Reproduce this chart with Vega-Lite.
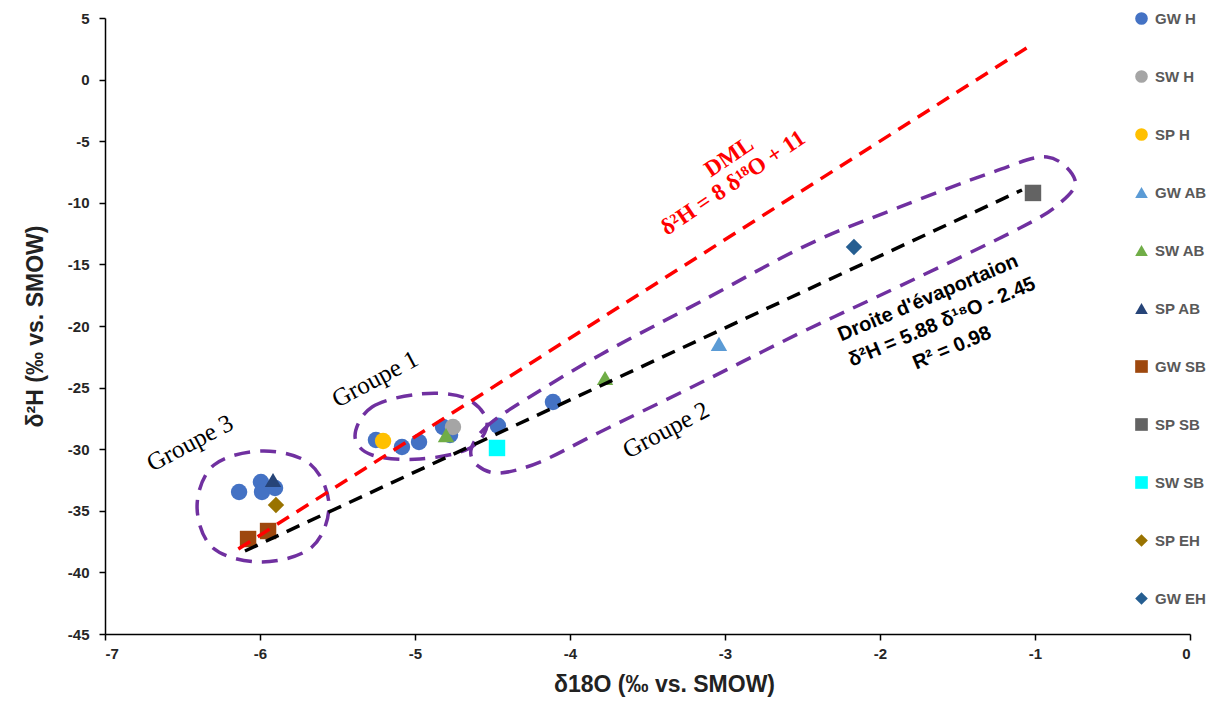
{
  "$schema": "https://vega.github.io/schema/vega-lite/v6.json",
  "autosize": {"type": "none"},
  "width": 1085,
  "height": 616,
  "padding": {"left": 105, "top": 18, "right": 25, "bottom": 74},
  "background": "white",
  "config": {
    "view": {"stroke": null},
    "axis": {
      "grid": false,
      "domainColor": "#000000",
      "domainWidth": 1.5,
      "tickColor": "#000000",
      "tickWidth": 1.5,
      "tickSize": 6,
      "labelFont": "Liberation Sans",
      "labelFontWeight": "bold",
      "labelFontSize": 15,
      "labelColor": "#262626",
      "titleFont": "Liberation Sans",
      "titleFontWeight": "bold",
      "titleFontSize": 23,
      "titleColor": "#222222"
    },
    "legend": {
      "labelFont": "Liberation Sans",
      "labelFontWeight": "bold",
      "labelFontSize": 15,
      "labelColor": "#595959"
    }
  },
  "datasets": {
    "samples": [
      {"serie": "GW H", "d18O": -6.135, "d2H": -33.47},
      {"serie": "GW H", "d18O": -5.994, "d2H": -32.66},
      {"serie": "GW H", "d18O": -5.987, "d2H": -33.47},
      {"serie": "GW H", "d18O": -5.903, "d2H": -33.15},
      {"serie": "GW H", "d18O": -5.252, "d2H": -29.25},
      {"serie": "GW H", "d18O": -5.084, "d2H": -29.82},
      {"serie": "GW H", "d18O": -4.974, "d2H": -29.42},
      {"serie": "GW H", "d18O": -4.819, "d2H": -28.2},
      {"serie": "GW H", "d18O": -4.774, "d2H": -28.85},
      {"serie": "GW H", "d18O": -4.465, "d2H": -28.1},
      {"serie": "GW H", "d18O": -4.11, "d2H": -26.17},
      {"serie": "SW H", "d18O": -4.755, "d2H": -28.2},
      {"serie": "SP H", "d18O": -5.206, "d2H": -29.33},
      {"serie": "GW AB", "d18O": -3.039, "d2H": -21.46},
      {"serie": "SW AB", "d18O": -3.774, "d2H": -24.22},
      {"serie": "SW AB", "d18O": -4.8, "d2H": -28.85},
      {"serie": "SP AB", "d18O": -5.916, "d2H": -32.5},
      {"serie": "GW SB", "d18O": -6.077, "d2H": -37.29},
      {"serie": "GW SB", "d18O": -5.948, "d2H": -36.64},
      {"serie": "SP SB", "d18O": -1.013, "d2H": -9.2},
      {"serie": "SW SB", "d18O": -4.471, "d2H": -29.9},
      {"serie": "SP EH", "d18O": -5.897, "d2H": -34.53},
      {"serie": "GW EH", "d18O": -2.168, "d2H": -13.59}
    ],
    "dml": [
      {"d18O": -6.14, "d2H": -38.1},
      {"d18O": -1.03, "d2H": 2.76}
    ],
    "evap": [
      {"d18O": -6.097, "d2H": -38.26},
      {"d18O": -1.084, "d2H": -8.96}
    ],
    "ellipses": [
      {"g": "3", "i": 0, "d18O": -5.981, "d2H": -30.15},
      {"g": "3", "i": 1, "d18O": -5.677, "d2H": -31.2},
      {"g": "3", "i": 2, "d18O": -5.555, "d2H": -34.53},
      {"g": "3", "i": 3, "d18O": -5.665, "d2H": -37.94},
      {"g": "3", "i": 4, "d18O": -5.987, "d2H": -39.16},
      {"g": "3", "i": 5, "d18O": -6.303, "d2H": -38.02},
      {"g": "3", "i": 6, "d18O": -6.406, "d2H": -34.61},
      {"g": "3", "i": 7, "d18O": -6.297, "d2H": -31.28},
      {"g": "1", "i": 0, "d18O": -5.387, "d2H": -28.93},
      {"g": "1", "i": 1, "d18O": -5.277, "d2H": -26.57},
      {"g": "1", "i": 2, "d18O": -4.968, "d2H": -25.52},
      {"g": "1", "i": 3, "d18O": -4.677, "d2H": -25.84},
      {"g": "1", "i": 4, "d18O": -4.535, "d2H": -27.79},
      {"g": "1", "i": 5, "d18O": -4.645, "d2H": -29.9},
      {"g": "1", "i": 6, "d18O": -4.968, "d2H": -30.8},
      {"g": "1", "i": 7, "d18O": -5.277, "d2H": -30.47},
      {"g": "2", "i": 0, "d18O": -4.639, "d2H": -30.06},
      {"g": "2", "i": 1, "d18O": -4.548, "d2H": -28.28},
      {"g": "2", "i": 2, "d18O": -4.323, "d2H": -26.25},
      {"g": "2", "i": 3, "d18O": -3.806, "d2H": -22.35},
      {"g": "2", "i": 4, "d18O": -3.161, "d2H": -18.05},
      {"g": "2", "i": 5, "d18O": -2.471, "d2H": -13.43},
      {"g": "2", "i": 6, "d18O": -1.871, "d2H": -10.34},
      {"g": "2", "i": 7, "d18O": -1.271, "d2H": -7.5},
      {"g": "2", "i": 8, "d18O": -0.923, "d2H": -6.28},
      {"g": "2", "i": 9, "d18O": -0.742, "d2H": -8.15},
      {"g": "2", "i": 10, "d18O": -0.839, "d2H": -10.02},
      {"g": "2", "i": 11, "d18O": -1.097, "d2H": -12.05},
      {"g": "2", "i": 12, "d18O": -1.871, "d2H": -16.75},
      {"g": "2", "i": 13, "d18O": -2.516, "d2H": -20.57},
      {"g": "2", "i": 14, "d18O": -3.161, "d2H": -24.63},
      {"g": "2", "i": 15, "d18O": -3.806, "d2H": -28.6},
      {"g": "2", "i": 16, "d18O": -4.194, "d2H": -31.04},
      {"g": "2", "i": 17, "d18O": -4.452, "d2H": -31.93},
      {"g": "2", "i": 18, "d18O": -4.594, "d2H": -31.36}
    ],
    "groupLabels": [
      {"label": "Groupe 3", "d18O": -6.452, "d2H": -29.5},
      {"label": "Groupe 1", "d18O": -5.258, "d2H": -24.3},
      {"label": "Groupe 2", "d18O": -3.381, "d2H": -28.44}
    ],
    "dmlLabels": [
      {"label": "DML", "d18O": -2.974, "d2H": -6.28},
      {"label": "δ²H  = 8 δ¹⁸O + 11", "d18O": -2.948, "d2H": -8.39}
    ],
    "evapLabels": [
      {"label": "Droite d'évaportaion", "d18O": -1.69, "d2H": -17.73},
      {"label": "δ²H = 5.88 δ¹⁸O - 2.45", "d18O": -1.6, "d2H": -19.68},
      {"label": "R² = 0.98", "d18O": -1.535, "d2H": -21.79}
    ]
  },
  "encoding": {
    "x": {
      "field": "d18O", "type": "quantitative",
      "scale": {"domain": [-7, 0], "nice": false, "zero": false},
      "axis": {"title": "δ18O (‰ vs. SMOW)", "values": [-7, -6, -5, -4, -3, -2, -1, 0], "labelExpr": "toString(datum.value)", "labelPadding": 6, "titlePadding": 12, "titleX": 559}
    },
    "y": {
      "field": "d2H", "type": "quantitative",
      "scale": {"domain": [-45, 5], "nice": false, "zero": false},
      "axis": {"title": "δ²H (‰ vs. SMOW)", "values": [-45, -40, -35, -30, -25, -20, -15, -10, -5, 0, 5], "labelExpr": "toString(datum.value)", "labelPadding": 10, "titlePadding": 20}
    }
  },
  "layer": [
    {
      "data": {"name": "samples"},
      "mark": {"type": "point", "filled": true, "opacity": 1, "size": 270},
      "encoding": {
        "color": {
          "field": "serie", "type": "nominal",
          "scale": {
            "domain": ["GW H", "SW H", "SP H", "GW AB", "SW AB", "SP AB", "GW SB", "SP SB", "SW SB", "SP EH", "GW EH"],
            "range": ["#4472C4", "#A5A5A5", "#FFC000", "#5B9BD5", "#70AD47", "#264478", "#9E480E", "#636363", "#00FFFF", "#997300", "#255E91"]
          },
          "legend": {"title": null, "orient": "none", "legendX": 1029, "legendY": -7, "rowPadding": 42, "symbolSize": 160, "labelOffset": 6}
        },
        "shape": {
          "field": "serie", "type": "nominal",
          "scale": {
            "domain": ["GW H", "SW H", "SP H", "GW AB", "SW AB", "SP AB", "GW SB", "SP SB", "SW SB", "SP EH", "GW EH"],
            "range": ["circle", "circle", "circle", "triangle-up", "triangle-up", "triangle-up", "square", "square", "square", "diamond", "diamond"]
          },
          "legend": {"title": null, "orient": "none", "legendX": 1029, "legendY": -7, "rowPadding": 42, "symbolSize": 160, "labelOffset": 6}
        }
      }
    },
    {
      "data": {"name": "ellipses"},
      "mark": {"type": "line", "interpolate": "cardinal-closed", "color": "#7030A0", "strokeWidth": 3.5, "strokeDash": [16, 10]},
      "encoding": {
        "detail": {"field": "g", "type": "nominal"},
        "order": {"field": "i", "type": "quantitative"}
      }
    },
    {
      "data": {"name": "evap"},
      "mark": {"type": "line", "color": "#000000", "strokeWidth": 3.5, "strokeDash": [14, 9]},
      "encoding": {}
    },
    {
      "data": {"name": "dml"},
      "mark": {"type": "line", "color": "#FF0000", "strokeWidth": 3.5, "strokeDash": [14, 9]},
      "encoding": {}
    },
    {
      "data": {"name": "groupLabels"},
      "mark": {"type": "text", "font": "Liberation Serif", "fontSize": 25, "angle": -28, "align": "center", "baseline": "middle", "color": "#000000"},
      "encoding": {"text": {"field": "label"}}
    },
    {
      "data": {"name": "dmlLabels"},
      "mark": {"type": "text", "font": "Liberation Serif", "fontWeight": "bold", "fontSize": 23, "angle": -34, "align": "center", "baseline": "middle", "color": "#FF0000"},
      "encoding": {"text": {"field": "label"}}
    },
    {
      "data": {"name": "evapLabels"},
      "mark": {"type": "text", "font": "Liberation Sans", "fontWeight": "bold", "fontSize": 20, "angle": -23, "align": "center", "baseline": "middle", "color": "#000000"},
      "encoding": {"text": {"field": "label"}}
    }
  ]
}
